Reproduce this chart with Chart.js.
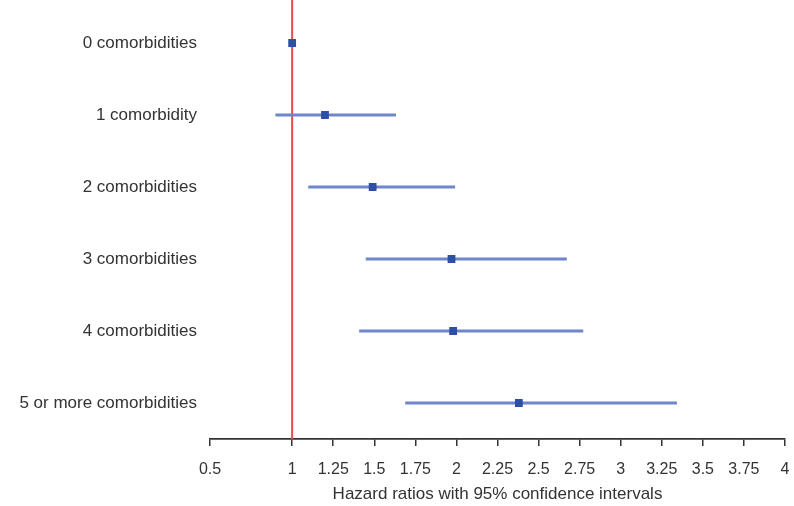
<!DOCTYPE html>
<html>
<head>
<meta charset="utf-8">
<script src="https://cdn.jsdelivr.net/npm/chart.js@4/dist/chart.umd.min.js"></script>
<style>
  html, body { margin: 0; padding: 0; background: #ffffff; }
  #wrap { width: 794px; height: 506px; }
</style>
</head>
<body>
<div id="wrap"><canvas id="c" width="794" height="506"></canvas></div>
<script>
const categories = ['0 comorbidities', '1 comorbidity', '2 comorbidities', '3 comorbidities', '4 comorbidities', '5 or more comorbidities'];
const hazardRatios = [1.0, 1.20, 1.49, 1.97, 1.98, 2.38];
const ciLower = [null, 0.90, 1.10, 1.45, 1.41, 1.69];
const ciUpper = [null, 1.63, 1.99, 2.67, 2.77, 3.34];
const xTickValues = [0.5, 1, 1.25, 1.5, 1.75, 2, 2.25, 2.5, 2.75, 3, 3.25, 3.5, 3.75, 4];
const xTickLabels = ['0.5', '1', '1.25', '1.5', '1.75', '2', '2.25', '2.5', '2.75', '3', '3.25', '3.5', '3.75', '4'];
const referenceValue = 1;
const xTitle = 'Hazard ratios with 95% confidence intervals';

const ciData = categories.map((c, i) => (ciLower[i] == null ? null : [ciLower[i], ciUpper[i]]));
const pointData = categories.map((c, i) => ({ x: hazardRatios[i], y: c }));

const refLine = {
  id: 'refLine',
  beforeDatasetsDraw(chart) {
    const { ctx, chartArea, scales } = chart;
    const x = scales.x.getPixelForValue(referenceValue);
    ctx.save();
    ctx.strokeStyle = '#ea4a4d';
    ctx.lineWidth = 2;
    ctx.beginPath();
    ctx.moveTo(x, 0);
    ctx.lineTo(x, chartArea.bottom);
    ctx.stroke();
    ctx.restore();
  }
};

new Chart(document.getElementById('c'), {
  type: 'bar',
  data: {
    labels: categories,
    datasets: [
      {
        type: 'line',
        indexAxis: 'y',
        data: pointData,
        showLine: false,
        pointStyle: 'rect',
        pointRadius: 5.5,
        pointBackgroundColor: '#2d4fa6',
        pointBorderColor: '#2d4fa6',
        pointBorderWidth: 0,
        order: 0
      },
      {
        type: 'bar',
        data: ciData,
        backgroundColor: '#6f86cb',
        borderWidth: 0,
        barThickness: 2.5,
        order: 1
      }
    ]
  },
  options: {
    indexAxis: 'y',
    responsive: false,
    animation: false,
    layout: { padding: { top: 7, right: 9, left: 0, bottom: 0 } },
    plugins: { legend: { display: false }, tooltip: { enabled: false } },
    scales: {
      x: {
        type: 'linear',
        min: 0.5,
        max: 4,
        afterBuildTicks(scale) { scale.ticks = xTickValues.map(v => ({ value: v })); },
        afterFit(scale) { scale.height = 67; scale.paddingLeft = 0; scale.paddingRight = 0; },
        grid: { drawOnChartArea: false, drawTicks: true, tickLength: 7, color: '#333', lineWidth: 1.5 },
        border: { display: true, color: '#333', width: 1.8 },
        ticks: {
          autoSkip: false,
          maxRotation: 0,
          padding: 14,
          color: '#333',
          font: { family: 'Liberation Sans, Arial, sans-serif', size: 16 },
          callback(value) { const i = xTickValues.indexOf(value); return i >= 0 ? xTickLabels[i] : ''; }
        },
        title: {
          display: true,
          text: xTitle,
          color: '#333',
          font: { family: 'Liberation Sans, Arial, sans-serif', size: 17 },
          padding: { top: 0, bottom: 1 }
        }
      },
      y: {
        type: 'category',
        afterFit(scale) { scale.width = 210; scale.paddingTop = 0; scale.paddingBottom = 0; },
        grid: { display: false, drawTicks: false },
        border: { display: false },
        ticks: {
          padding: 13,
          color: '#333',
          font: { family: 'Liberation Sans, Arial, sans-serif', size: 17 }
        }
      }
    }
  },
  plugins: [refLine]
});
</script>
</body>
</html>
